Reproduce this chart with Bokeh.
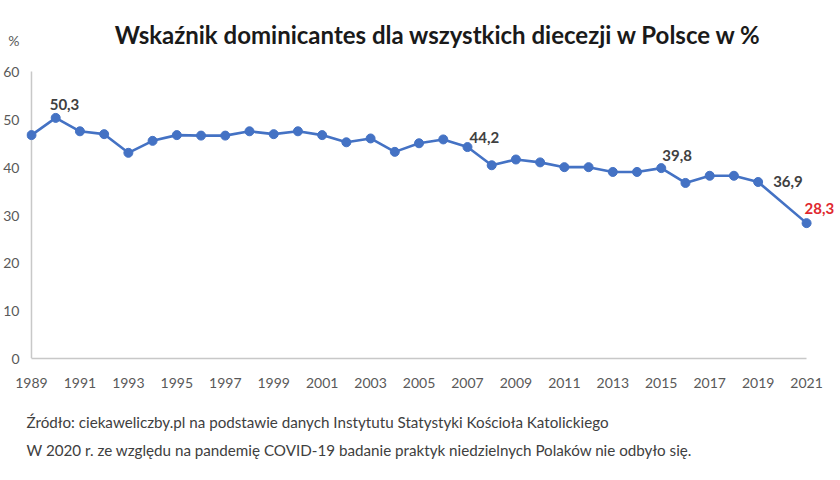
from bokeh.plotting import figure
from bokeh.models import ColumnDataSource, FixedTicker, Range1d, Title
from bokeh.core.properties import value
from bokeh.embed import file_html
from bokeh.resources import INLINE

# Sunday mass attendance (dominicantes), % of obliged Catholics; no survey in 2020
years = [1989, 1990, 1991, 1992, 1993, 1994, 1995, 1996, 1997, 1998, 1999,
         2000, 2001, 2002, 2003, 2004, 2005, 2006, 2007, 2008, 2009, 2010,
         2011, 2012, 2013, 2014, 2015, 2016, 2017, 2018, 2019, 2021]
dominicantes = [46.7, 50.3, 47.5, 46.9, 43.0, 45.5, 46.7, 46.6, 46.6, 47.5, 46.9,
                47.5, 46.7, 45.2, 46.0, 43.2, 45.0, 45.8, 44.2, 40.4, 41.6, 41.0,
                40.0, 40.0, 39.0, 39.0, 39.8, 36.7, 38.2, 38.2, 36.9, 28.3]
labelled_years = [1990, 2007, 2015, 2019, 2021]
y_ticks = [0, 10, 20, 30, 40, 50, 60]
x_ticks = list(range(1989, 2022, 2))

title_text = "Wskaźnik dominicantes dla wszystkich diecezji w Polsce w %"
unit_text = "%"
source_note = "Źródło: ciekaweliczby.pl na podstawie danych Instytutu Statystyki Kościoła Katolickiego"
covid_note = "W 2020 r. ze względu na pandemię COVID-19 badanie praktyk niedzielnych Polaków nie odbyło się."

BLUE = "#4472C4"
GREY = "#595959"
AXIS = "#C8C8C8"
DARK = "#404040"
RED = "#E0282E"
FONT = "Lato"

# Frame: from the top of the canvas down to the zero line, 24 px in from the left.
W, H = 840, 480
FRAME_LEFT = 24
ZERO_PX = 358          # canvas y of the zero line
TOP_TICK_PX = 71       # canvas y of the 60 line
FIRST_YEAR_PX = 29     # canvas x of the first year
PX_PER_YEAR = 777 / 32
PX_PER_PCT = (ZERO_PX - TOP_TICK_PX) / y_ticks[-1]

x_start = years[0] - (FIRST_YEAR_PX - FRAME_LEFT) / PX_PER_YEAR
x_end = x_start + (W - FRAME_LEFT) / PX_PER_YEAR
y_end = ZERO_PX / PX_PER_PCT


def at_px(px, py):
    """Canvas pixel -> data coordinates of this frame."""
    return x_start + (px - FRAME_LEFT) / PX_PER_YEAR, (ZERO_PX - py) / PX_PER_PCT


p = figure(width=W, height=H, output_backend="svg", toolbar_location=None,
           x_range=Range1d(x_start, x_end), y_range=Range1d(0, y_end),
           min_border_left=FRAME_LEFT, min_border_right=0,
           min_border_top=0, min_border_bottom=H - ZERO_PX)
p.outline_line_color = None
p.background_fill_color = "white"
p.border_fill_color = "white"
p.xgrid.visible = False
p.ygrid.visible = False

# x axis along the zero line
p.xaxis.ticker = FixedTicker(ticks=x_ticks)
p.xaxis.bounds = (years[0], years[-1])
p.xaxis.axis_line_color = AXIS
p.xaxis.axis_line_width = 1.5
p.xaxis.major_tick_line_color = None
p.xaxis.minor_tick_line_color = None
p.xaxis.major_tick_out = 0
p.xaxis.major_label_standoff = 19
p.xaxis.major_label_text_font = FONT
p.xaxis.major_label_text_font_size = "14px"
p.xaxis.major_label_text_color = GREY

# y axis: tick labels plus the unit sign above the top tick
unit_pos = round(at_px(0, 40)[1], 1)
p.yaxis.ticker = FixedTicker(ticks=y_ticks + [unit_pos])
p.yaxis.major_label_overrides = {unit_pos: unit_text}
p.yaxis.axis_line_color = None
p.yaxis.major_tick_line_color = None
p.yaxis.minor_tick_line_color = None
p.yaxis.major_tick_out = 0
p.yaxis.major_label_standoff = 7
p.yaxis.major_label_text_font = FONT
p.yaxis.major_label_text_font_size = "14px"
p.yaxis.major_label_text_color = GREY
# vertical axis line at the first year, from 0 to the top tick
p.segment(x0=[years[0]], y0=[y_ticks[0]], x1=[years[0]], y1=[y_ticks[-1]],
          line_color=AXIS, line_width=1.5)

src = ColumnDataSource(dict(year=years, val=dominicantes))
p.line("year", "val", source=src, line_color=BLUE, line_width=2.6)
p.scatter("year", "val", source=src, size=9, fill_color=BLUE, line_color=BLUE)

# value labels for selected years: pixel offsets and colours are styling
label_dx = {1990: -6, 2007: 2, 2015: 1, 2019: 15, 2021: -2}
label_dy = {1990: -13, 2007: -10, 2015: -13, 2019: 0, 2021: -15}
label_col = {2021: RED}
lab_x, lab_y, lab_t, lab_dx, lab_dy, lab_c = [], [], [], [], [], []
for yr, v in zip(years, dominicantes):
    if yr in labelled_years:
        lab_x.append(yr)
        lab_y.append(v)
        lab_t.append(f"{v:.1f}".replace(".", ","))
        lab_dx.append(label_dx[yr])
        lab_dy.append(label_dy[yr])
        lab_c.append(label_col.get(yr, DARK))
lab_src = ColumnDataSource(dict(x=lab_x, y=lab_y, t=lab_t, dx=lab_dx, dy=lab_dy, c=lab_c))
p.text("x", "y", text="t", source=lab_src, x_offset="dx", y_offset="dy",
       text_color="c", text_font=value(FONT), text_font_size="15px",
       text_font_style="bold", text_align="left", text_baseline="middle")

# chart heading, centred at x=437 with its capitals centred on y=34
tx, ty = at_px(437, 34)
p.text(x=[tx], y=[ty], text=[title_text], text_font=value(FONT), text_font_size="24px",
       text_font_style="bold", text_color="#1a1a1a", text_align="center",
       text_baseline="middle")

# two-line note under the chart
p.add_layout(Title(text=source_note + "\n" + covid_note, align="left", offset=0,
                   standoff=41, text_font=FONT, text_font_size="15.2px",
                   text_font_style="normal", text_line_height=1.55,
                   text_color=DARK), "below")

open("out.html", "w").write(file_html(p, INLINE))
